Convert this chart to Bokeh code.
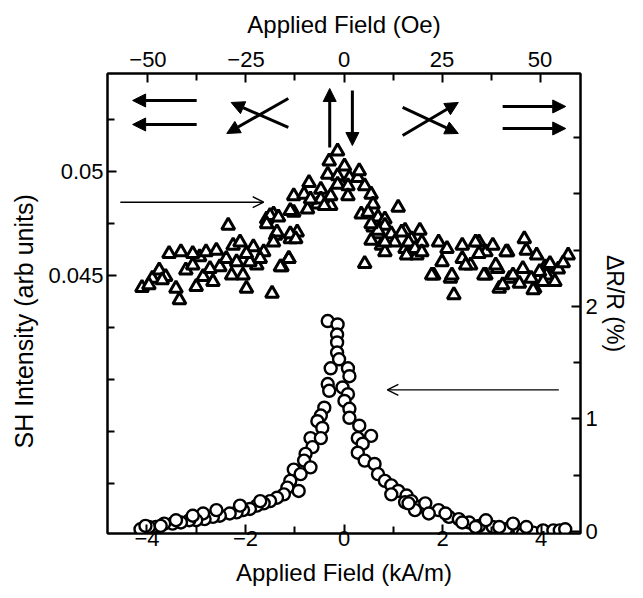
from bokeh.plotting import figure
from bokeh.models import Range1d, LinearAxis, FixedTicker, Arrow, NormalHead, OpenHead, Title
from bokeh.embed import file_html
from bokeh.resources import INLINE

# conversion kA/m -> Oe
OE_PER_KAM = 12.566

# SH intensity (triangles): applied field (kA/m), intensity (arb units)
tri_x = [-4.10, -3.89, -3.75, -3.55, -3.31, -3.62, -3.41, -3.34, -3.21, -3.00, -2.93, -2.80,
         -2.66, -2.59, -2.52, -2.35, -2.25, -2.18, -2.11, -2.05, -1.98, -1.84, -1.77, -1.63,
         -1.46, -1.26, -1.12, -1.57, -1.43, -1.39, -1.09, -0.95, -1.02, -0.74, -0.54, -0.27,
         -3.96, -3.69, -3.07, -2.86, -2.72, -2.39, -2.28, -1.91, -1.70, -1.98, -3.07,
         -0.13, -0.30, 0.01, -0.33, -0.13, 0.11, 0.28, 0.31, -0.13, 0.08, 0.42, -0.71,
         -0.47, -0.47, -0.27, 0.08, 0.55, -1.02, -0.81, -0.68, -0.40, 0.59, 1.10, 0.35,
         0.49, 0.69, 0.83, -1.50, -1.33, -1.09, -1.57, -1.36, -1.09, -1.43, -0.98, -1.12,
         -1.29, 0.42, 0.59, 0.69, 0.83, 0.96, 0.55, 0.76, 0.83, 1.03, 1.24, 1.37, 1.54,
         1.58, 1.24, 1.27, 1.48,
         1.92, 2.09, 1.82, 1.99, 2.16, 2.23, 2.40, 2.40, 2.57, 2.74, 2.88, 3.02, 2.88,
         3.12, 3.32, 3.15, 3.36, 3.66, 3.70, 3.91, 3.63, 3.87, 3.80, 4.08, 4.11, 4.55,
         4.28, 4.18, 3.97, 3.84, 1.78, 2.19, 2.47, 2.67, 2.74, 2.84, 3.08, 3.22, 3.29,
         3.43, 3.56, 4.04, 1.17, 1.31, 1.44, 1.58, 0.83, 0.69, 0.55, 4.35, 4.45]
tri_y = [0.04441, 0.04486, 0.04525, 0.04605, 0.04613, 0.04494, 0.04438, 0.04382, 0.04525,
         0.04446, 0.04589, 0.04613, 0.04470, 0.04620, 0.04541, 0.04740, 0.04644, 0.04565,
         0.04660, 0.04501, 0.04438, 0.04637, 0.04549, 0.04613, 0.04414, 0.04541, 0.04581,
         0.04771, 0.04795, 0.04692, 0.04676, 0.04708, 0.04803, 0.04819, 0.04843, 0.04835,
         0.04454, 0.04478, 0.04549, 0.04494, 0.04533, 0.04581, 0.04501, 0.04565, 0.04581,
         0.04605, 0.04605,
         0.05097, 0.05049, 0.05025, 0.04986, 0.04978, 0.04970, 0.04970, 0.05002, 0.04938,
         0.04930, 0.04930, 0.04946, 0.04914, 0.04867, 0.04882, 0.04882, 0.04890, 0.04882,
         0.04890, 0.04867, 0.04835, 0.04843, 0.04827, 0.04795, 0.04803, 0.04780, 0.04771,
         0.04787, 0.04780, 0.04811, 0.04748, 0.04708, 0.04700, 0.04660, 0.04676, 0.04581,
         0.04541, 0.04557, 0.04732, 0.04700, 0.04740, 0.04700, 0.04668, 0.04644, 0.04613,
         0.04660, 0.04716, 0.04676, 0.04716, 0.04660, 0.04629, 0.04597, 0.04597,
         0.04660, 0.04629, 0.04501, 0.04565, 0.04486, 0.04406, 0.04644, 0.04581, 0.04549,
         0.04660, 0.04613, 0.04644, 0.04501, 0.04533, 0.04613, 0.04438, 0.04486, 0.04676,
         0.04620, 0.04597, 0.04533, 0.04438, 0.04486, 0.04541, 0.04501, 0.04597, 0.04470,
         0.04557, 0.04518, 0.04430, 0.04501, 0.04501, 0.04549, 0.04660, 0.04605, 0.04501,
         0.04549, 0.04454, 0.04613, 0.04501, 0.04462, 0.04470, 0.04708, 0.04660, 0.04629,
         0.04613, 0.04660, 0.04716, 0.04748, 0.04530, 0.04560]

# Magnetoresistance (circles): applied field (kA/m), dR/R (%)
circ_x = [-0.33, -0.13, -0.14, -0.14, -0.14, -0.10, -0.27, 0.08, 0.11, -0.33, -0.30, -0.03,
          0.08, 0.01, -0.40, -0.47, 0.11, 0.11, -0.54, 0.31, -0.44, 0.55, -0.68, -0.47, 0.28,
          0.38, -0.64, -0.78, 0.28, 0.42, 0.62, -0.81, -0.68, -1.02, -0.88, -0.92, -1.09,
          -1.15, 0.69, 0.83, 0.96, 1.10, 1.27, 1.37, 1.54, 1.24, 1.44, 1.65, 1.92, 2.13, 2.33,
          2.54, 2.74, 3.02, 3.29, 3.56, 3.84, 4.04, 2.88, 3.43, 1.72,
          -1.22, -1.36, -1.50, -1.63, -1.77, -1.91, -2.05, -2.18, -2.32, -2.52, -2.66, -2.83,
          -2.86, -3.00, -3.14, -3.31, -3.48, -3.65, -3.82, -3.96, -4.13,
          -1.70, -2.11, -2.59, -3.07, -3.41, -3.72, -4.03, 0.96, 1.31, 2.06, 2.40, 2.67,
          3.15, 3.63, 3.70, 4.25, 4.38, 4.49]
circ_y = [1.87, 1.84, 1.75, 1.68, 1.59, 1.53, 1.45, 1.45, 1.38, 1.31, 1.25, 1.28, 1.22, 1.16,
          1.10, 1.03, 1.09, 1.01, 0.98, 0.94, 0.92, 0.85, 0.83, 0.83, 0.83, 0.78, 0.75, 0.69,
          0.70, 0.63, 0.60, 0.63, 0.57, 0.55, 0.51, 0.36, 0.45, 0.39, 0.51, 0.45, 0.41, 0.36,
          0.32, 0.27, 0.22, 0.26, 0.19, 0.25, 0.19, 0.13, 0.11, 0.08, 0.05, 0.04, 0.02, 0.01,
          -0.01, 0.01, 0.10, 0.07, 0.16,
          0.33, 0.30, 0.27, 0.25, 0.23, 0.20, 0.19, 0.17, 0.16, 0.14, 0.13, 0.11, 0.16, 0.10,
          0.10, 0.08, 0.07, 0.07, 0.04, 0.04, 0.02,
          0.27, 0.23, 0.19, 0.14, 0.10, 0.05, 0.05, 0.33, 0.25, 0.16, 0.08, 0.04, 0.04, -0.02,
          0.04, 0.01, 0.01, 0.02]

x_lo, x_hi = -4.80, 4.80
sh_lo, sh_hi = 0.03260, 0.05471
dr_lo, dr_hi = -0.018, 4.07

FONT = "Liberation Sans"

p = figure(width=643, height=598, output_backend="svg", toolbar_location=None,
           x_range=Range1d(x_lo, x_hi), y_range=Range1d(sh_lo, sh_hi),
           min_border_left=107, min_border_right=63, min_border_top=73, min_border_bottom=65,
           background_fill_color="white", border_fill_color="white")
p.xgrid.visible = False
p.ygrid.visible = False
p.outline_line_color = "black"
p.outline_line_width = 2

p.extra_x_ranges = {"oe": Range1d(x_lo * OE_PER_KAM, x_hi * OE_PER_KAM)}
p.extra_y_ranges = {"dr": Range1d(dr_lo, dr_hi)}


def style(ax, label_standoff, tick_standoff, label_size="24px"):
    ax.axis_line_width = 2
    ax.axis_line_color = "black"
    ax.major_tick_in = 9
    ax.major_tick_out = 0
    ax.minor_tick_in = 7
    ax.minor_tick_out = 0
    ax.major_tick_line_width = 2
    ax.minor_tick_line_width = 2
    ax.major_label_text_font = FONT
    ax.major_label_text_font_size = "22px"
    ax.major_label_text_color = "black"
    ax.axis_label_text_font = FONT
    ax.axis_label_text_font_size = label_size
    ax.axis_label_text_font_style = "normal"
    ax.axis_label_text_color = "black"
    ax.axis_label_standoff = label_standoff
    ax.major_label_standoff = tick_standoff


xb = p.xaxis[0]
xb.ticker = FixedTicker(ticks=[-4, -2, 0, 2, 4], minor_ticks=[-3, -1, 1, 3])
xb.axis_label = "Applied Field (kA/m)"
style(xb, 10, -3)

yl = p.yaxis[0]
yl.ticker = FixedTicker(ticks=[0.045, 0.05],
                        minor_ticks=[0.035, 0.0375, 0.04, 0.0425, 0.0475, 0.0525])
style(yl, 14, 4)

xt = LinearAxis(x_range_name="oe", axis_label="Applied Field (Oe)",
                ticker=FixedTicker(ticks=[-50, -25, 0, 25, 50],
                                   minor_ticks=[-37.5, -12.5, 12.5, 37.5]))
style(xt, 11, 7)
p.add_layout(xt, "above")

yr = LinearAxis(y_range_name="dr",
                ticker=FixedTicker(ticks=[0, 1, 2], minor_ticks=[0.5, 1.5, 2.5, 3, 3.5]))
style(yr, 4, 5, "23px")
p.add_layout(yr, "right")

# axis titles on the sides; the left one starts lower, as in the original
p.add_layout(Title(text="SH Intensity (arb units)", align="left", offset=85,
                   standoff=15, text_font=FONT, text_font_size="25px",
                   text_font_style="normal", text_color="black"), "left")
p.add_layout(Title(text="ΔR/R (%)", align="center",
                   standoff=2, text_font=FONT, text_font_size="23px",
                   text_font_style="normal", text_color="black"), "right")

# data
p.scatter(tri_x, tri_y, marker="triangle", size=13, fill_color="white",
          line_color="black", line_width=3)
p.scatter(circ_x, circ_y, y_range_name="dr", marker="circle", size=12, fill_color="white",
          line_color="black", line_width=2.4)

# magnetization-direction arrows (kA/m, SH units)
thick = [
    (-2.99, 0.053413, -4.29, 0.053413),
    (-2.99, 0.052260, -4.29, 0.052260),
    (-1.13, 0.052115, -2.29, 0.053317),
    (-1.13, 0.053510, -2.38, 0.051827),
    (-0.29, 0.051154, -0.29, 0.053990),
    (0.17, 0.053894, 0.17, 0.051250),
    (1.19, 0.053077, 2.32, 0.051827),
    (1.19, 0.051731, 2.32, 0.053317),
    (3.22, 0.053125, 4.50, 0.053125),
    (3.22, 0.052067, 4.50, 0.052067),
]
for xs, ys, xe, ye in thick:
    p.add_layout(Arrow(end=NormalHead(size=13, fill_color="black", line_color="black"),
                       x_start=xs, y_start=ys, x_end=xe, y_end=ye,
                       line_width=3, line_color="black"))

thin = [
    (-4.54, 0.048524, -1.63, 0.048524),
    (4.36, 0.039505, 0.88, 0.039505),
]
for xs, ys, xe, ye in thin:
    p.add_layout(Arrow(end=OpenHead(size=11, line_width=1.4, line_color="black"),
                       x_start=xs, y_start=ys, x_end=xe, y_end=ye,
                       line_width=1.4, line_color="black"))

open("out.html", "w").write(file_html(p, INLINE))
